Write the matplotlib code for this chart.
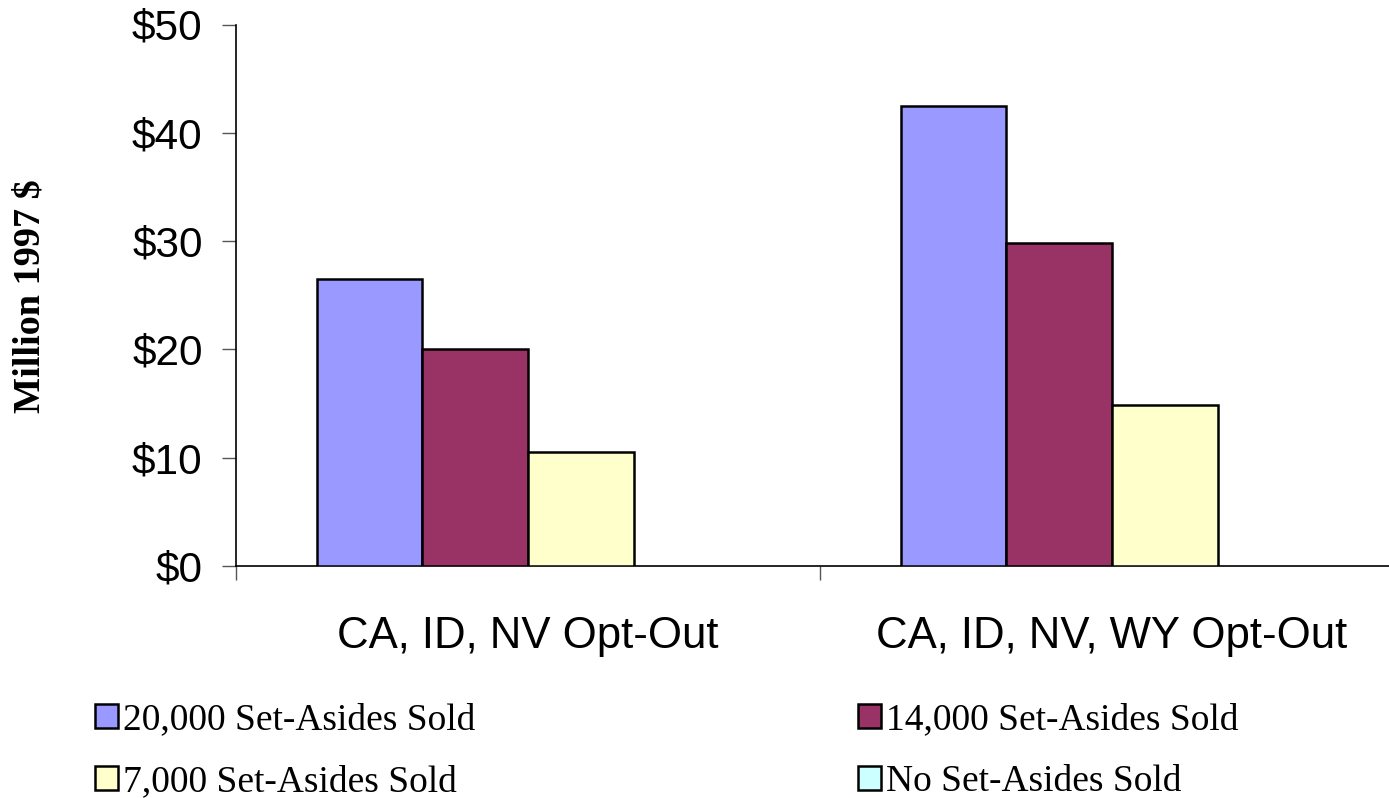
import numpy as np
import matplotlib.pyplot as plt
from matplotlib.patches import Patch

# data
categories = ['CA, ID, NV Opt-Out', 'CA, ID, NV, WY Opt-Out']
series = ['20,000 Set-Asides Sold', '14,000 Set-Asides Sold',
          '7,000 Set-Asides Sold', 'No Set-Asides Sold']
vals_20k = [26.5, 42.5]
vals_14k = [20.0, 29.8]
vals_7k = [10.5, 14.9]
vals_none = [0.0, 0.0]
colors = ['#9999FF', '#993366', '#FFFFCC', '#CCFFFF']
yticks = [0, 10, 20, 30, 40, 50]

fig = plt.figure(figsize=(13.89, 7.98), dpi=100)
ax = fig.add_axes([236/1389, 1-566/798, 1-236/1389, (566-24.5)/798])

x = np.arange(len(categories))
w = 0.181
data = [vals_20k, vals_14k, vals_7k, vals_none]
for i, vals in enumerate(data):
    off = (i-1.5)*w
    lw = [1.8 if v > 0 else 0 for v in vals]  # zero bars leave no outline
    ax.bar(x+off, vals, w, color=colors[i], edgecolor='black', linewidth=lw, zorder=3)

ax.set_xlim(-0.5, -0.5+(1389-236)/584)
ax.set_ylim(0, 50)
ax.set_yticks(yticks)
ax.set_yticklabels(['$%d' % v for v in yticks], fontsize=30.5, family='Liberation Sans')
ax.tick_params(axis='y', length=10, width=1, color='#555555', pad=14)

# boundary ticks as major, labels as minor
ax.set_xticks([-0.5, 0.5])
ax.set_xticklabels([])
ax.tick_params(axis='x', which='major', length=10, width=1, color='#555555')
ax.set_xticks(x, minor=True)
ax.set_xticklabels(categories, minor=True, fontsize=31.5, family='Liberation Sans')
ax.tick_params(axis='x', which='minor', length=0, pad=36)

for s in ['top', 'right']:
    ax.spines[s].set_visible(False)
ax.spines['left'].set_linewidth(1.2)
ax.spines['bottom'].set_linewidth(1.2)

fig.text(30/1389, 1-296/798, 'Million 1997 $', rotation=90, ha='center', va='center',
         fontsize=27.5, fontweight='bold', family='Liberation Serif')

handles = [Patch(facecolor=c, edgecolor='black', linewidth=1.8) for c in colors]
order = [0, 2, 1, 3]
fig.legend([handles[i] for i in order], [series[i] for i in order], ncol=2,
           loc='upper left', bbox_to_anchor=(95/1389, 1-703/798), frameon=False,
           prop={'family': 'Liberation Serif', 'size': 27},
           handlelength=0.6, handleheight=0.6, handletextpad=0.15,
           columnspacing=10.2, labelspacing=0.72, borderaxespad=0, borderpad=0)

fig.savefig('out.png', dpi=100)
